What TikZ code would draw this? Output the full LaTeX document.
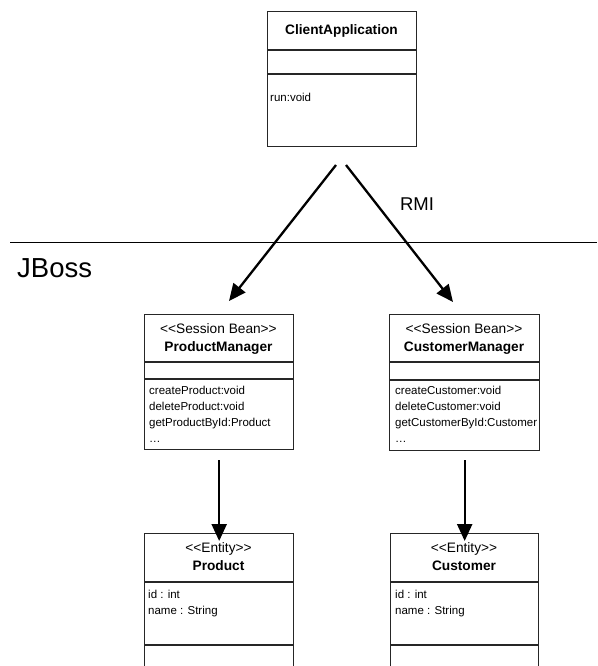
\documentclass[tikz,border=0pt]{standalone}
\usepackage{fontspec}
\setmainfont[Ligatures=NoCommon]{Liberation Sans}
\usetikzlibrary{arrows.meta}

\begin{document}
\begin{tikzpicture}[x=1pt,y=-1pt,
  umlbox/.style={draw=black!85, line width=1.35pt, inner sep=0pt, anchor=north west},
  divider/.style={draw=black!85, line width=1.35pt},
  classname/.style={font=\bfseries\fontsize{13.7}{16}\selectfont, inner sep=0pt, anchor=base},
  stereotype/.style={font=\fontsize{13.7}{16}\selectfont, inner sep=0pt, anchor=base},
  % multi-line member lists: the base anchor sits on the LAST line
  members/.style={font=\fontsize{11.5}{16}\selectfont, align=left, inner sep=0pt, anchor=base west},
  flow/.style={line width=2.3pt, -{Triangle[length=17pt,width=15pt]}},
  zone/.style={font=\fontsize{27.5}{30}\selectfont, inner sep=0pt, anchor=base west},
  protocol/.style={font=\fontsize{18.5}{20}\selectfont, inner sep=0pt, anchor=base}]

\useasboundingbox (0,0) rectangle (597,666);
\clip (0,0) rectangle (597,666);

% client side
\node[umlbox, minimum width=149pt, minimum height=135pt] (client) at (267,11) {};
\draw[divider] (client.west |- 0,50) -- (client.east |- 0,50);
\draw[divider] (client.west |- 0,74) -- (client.east |- 0,74);
\node[classname] (clientname) at (341.5,35) {ClientApplication};
\node[members] (clientops) at (270,102) {run:void};

% server boundary
\coordinate (bleft) at (10,242);
\coordinate (bright) at (597,242);
\draw[line width=1pt] (bleft) -- (bright);
\node[zone] (jboss) at (17,277) {JBoss};
\node[protocol] (rmi) at (417,210) {RMI};

% session beans
\node[umlbox, minimum width=149pt, minimum height=135pt] (pm) at (144,314) {};
\draw[divider] (pm.west |- 0,362) -- (pm.east |- 0,362);
\draw[divider] (pm.west |- 0,379) -- (pm.east |- 0,379);
\node[stereotype] (pmstereo) at (218.5,333) {<{}<Session Bean>{}>};
\node[classname] (pmname) at (218.5,351.5) {ProductManager};
\node[members] (pmops) at (149,442) {createProduct:void\\deleteProduct:void\\getProductById:Product\\\ldots};

\node[umlbox, minimum width=150pt, minimum height=136pt] (cm) at (389,314) {};
\draw[divider] (cm.west |- 0,362) -- (cm.east |- 0,362);
\draw[divider] (cm.west |- 0,380) -- (cm.east |- 0,380);
\node[stereotype] (cmstereo) at (464,333) {<{}<Session Bean>{}>};
\node[classname] (cmname) at (464,351.5) {CustomerManager};
\begin{scope}
  \clip (cm.north west) rectangle (cm.south east);
  \node[members] (cmops) at (395,442) {createCustomer:void\\deleteCustomer:void\\getCustomerById:Customer\\\ldots};
\end{scope}

% entities
\node[umlbox, minimum width=149pt, minimum height=150pt] (prod) at (144,533) {};
\draw[divider] (prod.west |- 0,582) -- (prod.east |- 0,582);
\draw[divider] (prod.west |- 0,645) -- (prod.east |- 0,645);
\node[stereotype] (prodstereo) at (218.5,552) {<{}<Entity>{}>};
\node[classname] (prodname) at (218.5,570) {Product};
\node[members] (prodattrs) at (148,614) {id : int\\name : String};

\node[umlbox, minimum width=148pt, minimum height=150pt] (cust) at (390,533) {};
\draw[divider] (cust.west |- 0,582) -- (cust.east |- 0,582);
\draw[divider] (cust.west |- 0,645) -- (cust.east |- 0,645);
\node[stereotype] (custstereo) at (464,552) {<{}<Entity>{}>};
\node[classname] (custname) at (464,570) {Customer};
\node[members] (custattrs) at (395,614) {id : int\\name : String};

% calls
\coordinate (rmiL) at (336,165);
\coordinate (rmiR) at (346,165);
\coordinate (pmIn) at (229,301);
\coordinate (cmIn) at (453,302);
\draw[flow] (rmiL) -- (pmIn);
\draw[flow] (rmiR) -- (cmIn);
\draw[flow] ([yshift=-10pt]pm.south) -- ([yshift=-8pt]pm.south |- prod.north);
\draw[flow] ([yshift=-9pt]cm.south) -- ([yshift=-8pt]cm.south |- cust.north);

\end{tikzpicture}
\end{document}
